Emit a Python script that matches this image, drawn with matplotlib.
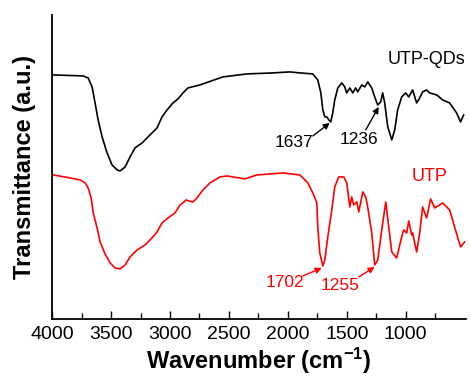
import numpy as np
import matplotlib
matplotlib.use("Agg")
import matplotlib.pyplot as plt

plt.rcParams['font.family'] = ['Liberation Sans', 'DejaVu Sans']
plt.rcParams['mathtext.fontset'] = 'custom'
plt.rcParams['mathtext.rm'] = 'Liberation Sans:bold'
plt.rcParams['mathtext.default'] = 'rm'

# UTP-QDs spectrum (black)
qd_wn = [3992, 3737, 3695, 3661, 3636, 3610, 3576, 3534, 3492, 3449, 3424, 3381,
         3339, 3297, 3237, 3170, 3110, 3068, 3025, 2975, 2932, 2890, 2847, 2746,
         2551, 2347, 2127, 1983, 1898, 1788, 1746, 1720, 1703, 1686, 1669, 1652,
         1636, 1619, 1602, 1576, 1542, 1517, 1500, 1474, 1449, 1424, 1407, 1373,
         1347, 1322, 1288, 1263, 1237, 1212, 1195, 1178, 1152, 1118, 1093, 1068,
         1034, 1000, 974, 941, 907, 890, 856, 822, 797, 737, 686, 627, 568, 534, 508]
qd_t = [244, 243, 241, 232, 216, 199, 182, 166, 154, 149, 148, 152,
        162, 171, 176, 184, 191, 202, 209, 216, 220, 226, 231, 234,
        242, 245, 246, 247, 246, 245, 239, 226, 209, 202, 202, 199,
        197, 206, 219, 231, 236, 232, 226, 231, 226, 231, 227, 234,
        232, 237, 231, 222, 214, 217, 226, 216, 192, 179, 189, 209,
        222, 226, 222, 229, 216, 219, 227, 229, 226, 224, 219, 216, 206, 197, 204]

# UTP spectrum (red)
utp_wn = [3992, 3847, 3763, 3720, 3695, 3669, 3653, 3619, 3593, 3551, 3508, 3466,
          3424, 3381, 3339, 3280, 3212, 3153, 3110, 3068, 3017, 2958, 2915, 2890,
          2864, 2839, 2805, 2771, 2720, 2661, 2576, 2517, 2364, 2263, 2042, 1898,
          1830, 1788, 1754, 1746, 1729, 1703, 1686, 1661, 1627, 1602, 1568, 1525,
          1500, 1474, 1458, 1441, 1415, 1398, 1364, 1339, 1322, 1288, 1263, 1237,
          1203, 1169, 1144, 1118, 1076, 1034, 1017, 991, 974, 949, 941, 907,
          881, 856, 822, 788, 754, 686, 627, 585, 534, 500]
utp_t = [144, 141, 139, 136, 131, 121, 107, 91, 77, 65, 56, 51,
         50, 54, 62, 69, 74, 81, 87, 96, 101, 106, 114, 116,
         119, 118, 117, 121, 129, 136, 142, 143, 140, 144, 146, 144,
         136, 126, 116, 92, 66, 53, 59, 82, 109, 132, 142, 142,
         136, 112, 122, 114, 117, 107, 127, 122, 112, 86, 54, 59,
         89, 117, 92, 67, 61, 82, 89, 86, 98, 84, 86, 67,
         86, 112, 101, 120, 111, 116, 109, 92, 72, 77]

# peak labels: (text, text pos, arrow start, arrow tip)
qd_peaks = [("1637", (1949, 176), (1788, 183), (1644, 196)),
            ("1236", (1398, 179), (1339, 189), (1229, 212))]
utp_peaks = [("1702", (2025, 36), (1873, 43), (1712, 51)),
             ("1255", (1559, 33), (1398, 42), (1263, 52))]

fig = plt.figure(figsize=(4.70, 3.82), dpi=100)
ax = fig.add_axes([0.111, 0.165, 0.88, 0.796])

ax.plot(qd_wn, qd_t, color='black', lw=1.2)
ax.plot(utp_wn, utp_t, color='red', lw=1.2)

for peaks, col in [(qd_peaks, 'black'), (utp_peaks, 'red')]:
    for label, tpos, start, tip in peaks:
        ax.text(tpos[0], tpos[1], label, color=col, fontsize=12.5,
                ha='center', va='center')
        ax.annotate('', xy=tip, xytext=start,
                    arrowprops=dict(arrowstyle='-|>', color=col, lw=1,
                                    mutation_scale=9, shrinkA=0, shrinkB=0))

ax.text(822, 259, "UTP-QDs", color='black', fontsize=13, ha='center',
        va='center', clip_on=False)
ax.text(796, 142, "UTP", color='red', fontsize=13, ha='center', va='center')

ax.set_xlim(4000, 490)
ax.set_ylim(0, 304)
ax.set_xticks([4000, 3500, 3000, 2500, 2000, 1500, 1000])
ax.set_xticks([3750, 3250, 2750, 2250, 1750, 1250, 750], minor=True)
ax.set_yticks([])
ax.tick_params(axis='x', which='major', direction='in', length=6, width=1,
               labelsize=14, pad=5)
ax.tick_params(axis='x', which='minor', direction='in', length=4, width=1)
ax.spines['top'].set_visible(False)
ax.spines['right'].set_visible(False)
ax.spines['left'].set_linewidth(1.3)
ax.spines['bottom'].set_linewidth(1.3)

ax.set_xlabel(r"Wavenumber (cm$^{-1}$)", fontsize=17, fontweight='bold',
              labelpad=2)
ax.set_ylabel("Transmittance (a.u.)", fontsize=17, fontweight='bold',
              labelpad=12)

fig.savefig("out.png", dpi=100)
